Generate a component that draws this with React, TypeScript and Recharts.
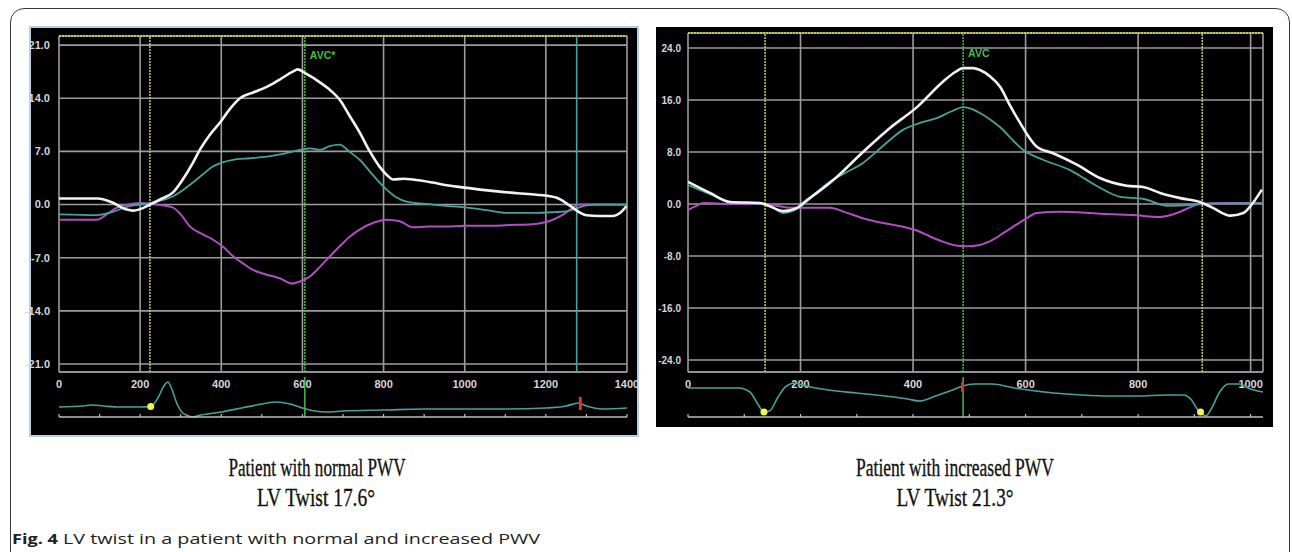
import React from 'react';
import { LineChart, Line, XAxis, YAxis, CartesianGrid, ReferenceLine, ReferenceDot } from 'recharts';

// ---------- Left panel: patient with normal PWV (time ms, degrees) ----------
const normalTwist = [[0,0.8],[96,0.8],[130,0.3],[167,-0.66],[182,-0.8],[205,-0.5],[224,0],[250,0.7],[281,1.6],[305,3.3],[330,5.5],[347,7.2],[372,9.2],[397,10.8],[420,12.5],[446,14],[480,14.8],[512,15.5],[545,16.5],[576,17.5],[588,17.8],[610,17.2],[643,16.1],[670,15.0],[692,13.8],[715,11.8],[741,9.5],[765,7.1],[790,5.0],[810,3.8],[823,3.3],[850,3.4],[872,3.3],[921,2.9],[960,2.5],[1005,2.2],[1050,1.9],[1086,1.7],[1130,1.5],[1177,1.3],[1210,1.1],[1227,0.9],[1250,0.2],[1266,-0.4],[1285,-1.1],[1300,-1.4],[1330,-1.5],[1364,-1.5],[1385,-1.0],[1399,-0.2]];
const normalApical = [[0,-1.3],[93,-1.4],[130,-1.0],[167,-0.3],[224,0.2],[281,1.1],[305,1.9],[330,2.9],[355,4.0],[379,5.0],[405,5.6],[429,5.9],[470,6.1],[512,6.3],[555,6.7],[594,7.2],[620,7.4],[643,7.2],[667,7.7],[692,7.9],[715,7.0],[741,5.9],[775,3.8],[807,2.0],[830,1.0],[857,0.4],[921,0],[960,-0.2],[1005,-0.4],[1050,-0.7],[1103,-1.1],[1167,-1.1],[1220,-1.0],[1251,-0.9],[1276,-0.5],[1300,-0.1],[1350,0],[1400,0]];
const normalBasal = [[0,-2.0],[93,-2.0],[120,-1.2],[143,-0.4],[170,0],[200,0.2],[241,0],[281,-0.4],[300,-1.3],[323,-2.9],[350,-3.8],[379,-4.6],[405,-5.6],[429,-6.8],[455,-7.8],[478,-8.6],[510,-9.2],[544,-9.7],[574,-10.4],[600,-10.0],[620,-9.4],[643,-8.2],[668,-6.8],[692,-5.5],[715,-4.3],[741,-3.3],[775,-2.4],[807,-2.0],[840,-2.2],[872,-3.0],[910,-2.9],[955,-2.9],[1000,-2.8],[1054,-2.8],[1110,-2.7],[1167,-2.6],[1200,-2.3],[1217,-2.0],[1240,-1.4],[1259,-0.7],[1283,0],[1330,0.05],[1382,0],[1400,0]];
const normalEcg = [[0,10],[60,11],[80,12],[110,11],[150,10],[200,10],[226,10.5],[245,20],[260,32],[268,35],[278,28],[290,14],[305,4],[320,1],[330,0],[350,2],[400,5],[450,9],[500,13],[535,15],[570,13],[600,9],[630,6],[660,5],[700,6],[800,7],[900,8],[1000,8],[1100,8],[1200,9],[1250,11],[1280,14],[1300,11],[1340,8],[1400,9]];
const normalXTicks = [0,200,400,600,800,1000,1200,1400];
const normalYTicks = [-21,-14,-7,0,7,14,21];
const normalEcgTicks = [0,100,200,300,400,500,600,700,800,900,1000,1100,1200,1300,1400];
const normalMarkers = { start: 224, avc: 606, end: 1276, ecgDot: [226, 10.5], ecgRed: 1285 };

// ---------- Right panel: patient with increased PWV ----------
const increasedTwist = [[0,3.4],[39,1.7],[75,0.3],[128,0.15],[140,-0.15],[169,-1.1],[194,-0.6],[210,0.5],[229,1.7],[265,4.2],[311,8.0],[359,11.7],[407,14.9],[453,18.8],[475,20.3],[489,20.9],[507,20.9],[519,20.6],[537,19.6],[555,18.0],[572,15.2],[590,12.5],[605,10.4],[620,8.8],[649,7.8],[692,6.0],[732,4.0],[780,2.8],[809,2.6],[839,1.7],[875,0.9],[910,0.3],[933,-0.6],[964,-1.8],[987,-1.4],[1004,0.15],[1020,2.2]];
const increasedApical = [[0,2.9],[39,1.5],[75,0.3],[128,0],[150,-0.5],[169,-1.4],[199,-0.5],[225,1.5],[252,3.4],[280,4.8],[311,6.3],[345,8.8],[382,11.4],[410,12.4],[442,13.2],[470,14.3],[489,14.9],[505,14.6],[519,14.0],[537,13.0],[555,11.8],[575,10.0],[596,8.3],[631,6.8],[679,5.2],[705,3.9],[732,2.5],[768,1.1],[809,0.8],[852,-0.3],[898,-0.15],[910,0],[960,0.1],[1020,0.15]];
const increasedBasal = [[0,-0.9],[15,-0.3],[27,0.15],[75,0],[134,0],[160,-0.3],[181,-0.6],[252,-0.6],[280,-1.3],[311,-2.2],[345,-2.9],[382,-3.5],[410,-4.2],[430,-5.0],[450,-5.7],[471,-6.3],[495,-6.5],[519,-6.3],[542,-5.5],[560,-4.5],[578,-3.5],[600,-2.3],[620,-1.4],[661,-1.2],[732,-1.5],[791,-1.7],[839,-2.0],[869,-1.4],[890,-0.6],[910,0],[958,0.15],[1020,0.15]];
const increasedEcg = [[0,29],[50,29],[90,29],[110,25],[125,12],[135,5],[145,6],[160,20],[175,31],[190,34],[210,31],[250,27],[300,24],[350,21],[390,18],[412,16],[440,21],[470,27],[488,31],[510,33],[540,33],[580,29],[650,24],[700,22],[750,21],[800,21],[850,22],[880,22],[895,17],[905,8],[911,5],[920,1],[930,8],[945,25],[960,33],[980,33],[1000,28],[1022,25]];
const increasedXTicks = [0,200,400,600,800,1000];
const increasedYTicks = [-24,-16,-8,0,8,16,24];
const increasedEcgTicks = [0,100,200,300,400,500,600,700,800,900,1000];
const increasedMarkers = { start: 137, avc: 489, end: 914, ecgDots: [[135,5],[911,5]], ecgRed: 488 };

const toPts = (arr: number[][]) => arr.map(([t, v]) => ({ t, v }));

const GRID = '#9c9c9c';
const WHITE = '#f2f2f2';
const TEAL = '#45a29c';
const MAGENTA = '#b04fc4';
const YELLOW = '#c9c957';
const GREEN = '#3fbf3f';
const tickStyle = { fill: '#d6d6d6', fontSize: 11, fontWeight: 700, fontFamily: "'Liberation Sans', Arial, sans-serif" };
const tickStyleSmall = { ...tickStyle, fontSize: 10 };

const EcgTick = (props: any) => (
  <line x1={props.x} y1={props.y} x2={props.x} y2={props.y - 3} stroke="#c0c0c0" strokeWidth={1.2} />
);

const avcLabel = (text: string, dy: number) => (props: any) => {
  const vb = props.viewBox || {};
  return (
    <text x={(vb.x || 0) + 5} y={(vb.y || 0) + dy} fill={GREEN} fontSize={10.5} fontWeight={700}
      fontFamily="'Liberation Sans', Arial, sans-serif">{text}</text>
  );
};

export default function App() {
  return (
    <div style={{ position: 'absolute', left: 0, top: 0, width: 1292, height: 552, overflow: 'hidden', background: '#fff' }}>
      {/* outer frame */}
      <div style={{ position: 'absolute', left: 10, top: 8, width: 1280, height: 640, border: '1.5px solid #3a3a3a', borderRadius: 14, boxSizing: 'border-box' }} />
      {/* left panel box */}
      <div style={{ position: 'absolute', left: 29, top: 26, width: 610, height: 411, border: '2px solid #b5cfea', background: '#000', boxSizing: 'border-box' }} />
      {/* right panel box */}
      <div style={{ position: 'absolute', left: 656, top: 27, width: 617, height: 400, background: '#000' }} />

      {/* Left main chart */}
      <div style={{ position: 'absolute', left: 0, top: 0 }}>
        <LineChart width={650} height={400} margin={{ top: 36, right: 23, bottom: 8, left: 0 }}>
          <CartesianGrid stroke={GRID} strokeWidth={1.6} />
          <XAxis dataKey="t" type="number" domain={[0, 1400]} ticks={normalXTicks} allowDataOverflow interval={0}
            tickLine={false} axisLine={{ stroke: GRID, strokeWidth: 1.6 }} tick={tickStyle} tickMargin={2} height={20} />
          <YAxis type="number" domain={[-22.05, 22.2]} ticks={normalYTicks} allowDataOverflow interval={0} width={59}
            tickLine={false} axisLine={false} tick={tickStyle} tickMargin={3} tickFormatter={(v: number) => v.toFixed(1)} />
          <ReferenceLine y={22.2} stroke={YELLOW} strokeWidth={2} strokeDasharray="2 1" />
          <ReferenceLine x={normalMarkers.start} stroke={YELLOW} strokeWidth={1.5} strokeDasharray="2 1" />
          <ReferenceLine x={normalMarkers.avc} stroke={GREEN} strokeWidth={1.5} strokeDasharray="2 1" label={avcLabel('AVC*', 23)} />
          <ReferenceLine x={normalMarkers.end} stroke={TEAL} strokeWidth={1.6} />
          <Line data={toPts(normalBasal)} dataKey="v" type="monotone" stroke={MAGENTA} strokeWidth={2} dot={false} isAnimationActive={false} />
          <Line data={toPts(normalApical)} dataKey="v" type="monotone" stroke={TEAL} strokeWidth={1.8} dot={false} isAnimationActive={false} />
          <Line data={toPts(normalTwist)} dataKey="v" type="monotone" stroke={WHITE} strokeWidth={2.6} dot={false} isAnimationActive={false} />
        </LineChart>
      </div>
      {/* Left ECG */}
      <div style={{ position: 'absolute', left: 0, top: 370 }}>
        <LineChart width={650} height={70} margin={{ top: 7, right: 23, bottom: 19, left: 59 }}>
          <XAxis dataKey="t" type="number" domain={[0, 1400]} ticks={normalEcgTicks} interval={0} height={4}
            tickLine={false} tickSize={0} axisLine={{ stroke: '#bdbdbd', strokeWidth: 1.6 }} tick={EcgTick} tickMargin={0} />
          <YAxis type="number" domain={[0, 40]} hide />
          <ReferenceLine x={normalMarkers.avc} stroke={GREEN} strokeWidth={1.5} />
          <Line data={toPts(normalEcg)} dataKey="v" type="monotone" stroke={TEAL} strokeWidth={1.6} dot={false} isAnimationActive={false} />
          <ReferenceLine segment={[{ x: normalMarkers.ecgRed, y: 7 }, { x: normalMarkers.ecgRed, y: 20 }]} stroke="#e03232" strokeWidth={3} />
          <ReferenceDot x={normalMarkers.ecgDot[0]} y={normalMarkers.ecgDot[1]} r={3.5} fill="#f4f450" stroke="none" />
        </LineChart>
      </div>

      {/* Right main chart */}
      <div style={{ position: 'absolute', left: 640, top: 0 }}>
        <LineChart width={635} height={400} margin={{ top: 33, right: 12, bottom: 8, left: 0 }}>
          <CartesianGrid stroke={GRID} strokeWidth={1.6} />
          <XAxis dataKey="t" type="number" domain={[0, 1022]} ticks={increasedXTicks} allowDataOverflow interval={0}
            tickLine={false} axisLine={{ stroke: GRID, strokeWidth: 1.6 }} tick={tickStyle} tickMargin={2} height={20} />
          <YAxis type="number" domain={[-25.85, 26.3]} ticks={increasedYTicks} allowDataOverflow interval={0} width={48}
            tickLine={false} axisLine={false} tick={tickStyleSmall} tickMargin={1} tickFormatter={(v: number) => v.toFixed(1)} />
          <ReferenceLine y={26.3} stroke={YELLOW} strokeWidth={2} strokeDasharray="2 1" />
          <ReferenceLine x={increasedMarkers.start} stroke={YELLOW} strokeWidth={1.5} strokeDasharray="2 1" />
          <ReferenceLine x={increasedMarkers.end} stroke={YELLOW} strokeWidth={1.5} strokeDasharray="2 1" />
          <ReferenceLine x={increasedMarkers.avc} stroke={GREEN} strokeWidth={1.5} strokeDasharray="2 1" label={avcLabel('AVC', 24)} />
          <Line data={toPts(increasedBasal)} dataKey="v" type="monotone" stroke={MAGENTA} strokeWidth={2} dot={false} isAnimationActive={false} />
          <Line data={toPts(increasedApical)} dataKey="v" type="monotone" stroke={TEAL} strokeWidth={1.8} dot={false} isAnimationActive={false} />
          <Line data={toPts(increasedTwist)} dataKey="v" type="monotone" stroke={WHITE} strokeWidth={2.6} dot={false} isAnimationActive={false} />
        </LineChart>
      </div>
      {/* Right ECG */}
      <div style={{ position: 'absolute', left: 640, top: 370 }}>
        <LineChart width={635} height={70} margin={{ top: 7, right: 12, bottom: 19, left: 48 }}>
          <XAxis dataKey="t" type="number" domain={[0, 1022]} ticks={increasedEcgTicks} interval={0} height={4}
            tickLine={false} tickSize={0} axisLine={{ stroke: '#bdbdbd', strokeWidth: 1.6 }} tick={EcgTick} tickMargin={0} />
          <YAxis type="number" domain={[0, 40]} hide />
          <ReferenceLine x={increasedMarkers.avc} stroke={GREEN} strokeWidth={1.5} />
          <Line data={toPts(increasedEcg)} dataKey="v" type="monotone" stroke={TEAL} strokeWidth={1.6} dot={false} isAnimationActive={false} />
          <ReferenceLine segment={[{ x: increasedMarkers.ecgRed, y: 25 }, { x: increasedMarkers.ecgRed, y: 35 }]} stroke="#e03232" strokeWidth={3} />
          {increasedMarkers.ecgDots.map(([x, y], i) => (
            <ReferenceDot key={i} x={x} y={y} r={3.5} fill="#f4f450" stroke="none" />
          ))}
        </LineChart>
      </div>

      {/* Captions */}
      <svg width={1292} height={552} style={{ position: 'absolute', left: 0, top: 0, pointerEvents: 'none' }}>
        <g fontFamily="'Liberation Serif', 'DejaVu Serif', serif" fontSize={26} fill="#111" stroke="#111" strokeWidth={0.35} textAnchor="middle">
          <text x={317} y={476} textLength={177} lengthAdjust="spacingAndGlyphs">Patient with normal PWV</text>
          <text x={316} y={506} textLength={118} lengthAdjust="spacingAndGlyphs">LV Twist 17.6°</text>
          <text x={955} y={476} textLength={198} lengthAdjust="spacingAndGlyphs">Patient with increased PWV</text>
          <text x={955} y={506} textLength={117} lengthAdjust="spacingAndGlyphs">LV Twist 21.3°</text>
        </g>
        <text x={12} y={544} fontFamily="'Open Sans', sans-serif" fontSize={15} fontWeight={700} fill="#222" textLength={46} lengthAdjust="spacingAndGlyphs">Fig. 4</text>
        <text x={63} y={544} fontFamily="'Open Sans', sans-serif" fontSize={15} fill="#222" textLength={477} lengthAdjust="spacingAndGlyphs">LV twist in a patient with normal and increased PWV</text>
      </svg>
    </div>
  );
}
